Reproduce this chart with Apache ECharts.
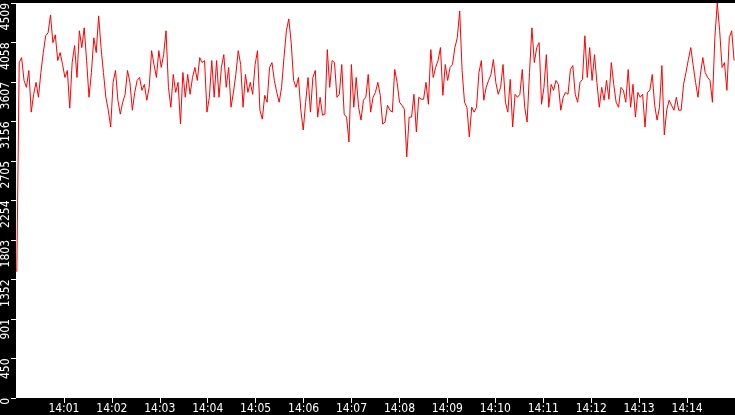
<!DOCTYPE html>
<html>
<head>
<meta charset="utf-8">
<script src="https://cdn.jsdelivr.net/npm/echarts@6/dist/echarts.min.js"></script>
<style>
html,body{margin:0;padding:0;background:#000;}
#chartmain{width:735px;height:415px;}
</style>
</head>
<body>
<div id="chartmain"></div>
<script>
// 采样: 从 14:00:01 开始, 约每3秒一个点
var sampleStart = 1;
var sampleStep = 3.013;
var values = [
	1440,3829,3886,3625,3546,3739,3263,3467,3603,3433,
	3716,3943,4135,4169,4373,4056,4146,3852,3943,3807,
	3659,3739,3308,3829,4022,3659,4192,4000,4226,3852,
	3433,3716,4112,3943,4362,4000,3716,3433,3285,3093,
	3603,3739,3399,3240,3376,3467,3739,3603,3285,3489,
	3625,3659,3512,3580,3399,3546,3965,3807,3659,3965,
	3773,3920,4192,3546,3319,3693,3489,3603,3127,3716,
	3433,3693,3467,3659,3773,3625,3886,
	3829,3852,3263,3433,3852,3433,3852,3433,3773,3920,
	3546,3773,3319,3489,3693,3965,3807,3319,3693,3489,
	3603,3467,3807,3965,3285,3183,3455,3376,3773,3829,
	3625,3489,3376,3546,3886,4192,4328,4056,3625,3546,
	3659,3285,3059,3376,3659,3263,
	3659,3739,3206,3433,3229,3240,3977,3546,3852,3829,
	3433,3467,3807,3240,3206,2923,3807,3319,3659,3319,
	3172,3399,3433,3693,3263,3433,3489,3603,3455,3127,
	3149,3342,3285,3263,3750,3603,3376,3342,3297,2753,
	3206,3206,3467,3036,3433,3410,
	3410,3603,3353,3977,3659,3773,3852,4000,3455,3807,
	3625,3773,3807,4000,4112,4418,3739,3376,3319,2980,
	3319,3263,3319,3716,3852,3399,3546,3625,3693,3863,
	3603,3467,3546,3807,3376,3263,3637,3093,3467,3433,
	3467,3750,3319,3149,3716,4226,3829,
	4000,4056,3353,3546,3920,3319,3580,3512,3625,3580,
	3285,3433,3489,3467,3750,3795,3467,3376,3603,3637,
	4135,3659,4000,3625,3920,3603,3319,3546,3399,3625,
	3410,3829,3580,3376,3319,3546,3512,3376,3750,3319,
	3580,3206,3489,3433,3467,3093,3489,3512,3693,3342,
	3172,3319,3795,3002,3285,3399,3342,3285,3433,3285,
	3285,3580,3716,3863,4000,3795,3603,3433,3693,3886,
	3716,3659,3625,3376,4112,4509,4192,3773,3829,3512,
	4112,4192,3852
];
// x轴刻度 (秒, 从14:00起) 和标签
var xTickSeconds = [60,120,180,240,300,360,420,480,540,600,660,720,780,840];
var xTickLabels = ['14:01','14:02','14:03','14:04','14:05','14:06','14:07','14:08','14:09','14:10','14:11','14:12','14:13','14:14'];
// y轴刻度标签
var yTickLabels = ['0','450','901','1352','1803','2254','2705','3156','3607','4058','4509'];
var yStep = 450.9;

var labelFont = "'Liberation Sans Narrow', 'DejaVu Sans Condensed', 'Liberation Sans'";

var seriesData = [];
for(var i=0;i<values.length;i++){
	seriesData.push([sampleStart + i*sampleStep, values[i]]);
}

var myChart = echarts.init(document.getElementById('chartmain'));
myChart.setOption({
	animation:false,
	backgroundColor:'#000',
	grid:{
		left:15, right:0, top:0, bottom:16,
		show:true, backgroundColor:'#fff', borderWidth:0
	},
	xAxis:{
		type:'value',
		min:0, max:900,
		axisLine:{show:false},
		splitLine:{show:false},
		axisTick:{
			show:true, length:5, inside:false,
			customValues:xTickSeconds,
			lineStyle:{color:'#fff', width:1}
		},
		axisLabel:{
			customValues:xTickSeconds,
			color:'#fff', fontSize:12, fontFamily:labelFont, margin:5,
			formatter:function(v){
				return xTickLabels[xTickSeconds.indexOf(Math.round(v))] || '';
			}
		}
	},
	yAxis:{
		type:'value',
		min:0, max:4509, interval:yStep,
		axisLine:{show:false},
		splitLine:{show:false},
		axisTick:{show:true, length:5, lineStyle:{color:'#fff', width:1}},
		axisLabel:{
			color:'#fff', fontSize:12, fontFamily:labelFont,
			rotate:90, margin:4, align:'right', verticalAlign:'bottom',
			formatter:function(v){
				return yTickLabels[Math.round(v/yStep)];
			}
		}
	},
	series:[{
		type:'line',
		data:seriesData,
		showSymbol:false,
		lineStyle:{color:'#ff0000', width:1},
		itemStyle:{color:'#ff0000'}
	}]
});
</script>
</body>
</html>
